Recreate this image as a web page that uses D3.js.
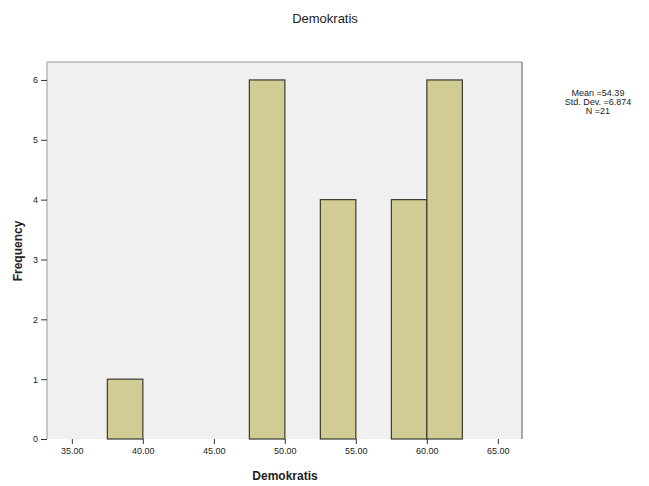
<!DOCTYPE html>
<html><head><meta charset="utf-8">
<script src="https://cdn.jsdelivr.net/npm/d3@7/dist/d3.min.js"></script>
<style>body{margin:0;background:#fff;}svg{display:block;font-family:"Liberation Sans",Arial,sans-serif;}</style>
</head><body>
<script>
const binStarts = [37.5, 47.5, 52.5, 57.5, 60.0];
const binWidth = 2.5;
const frequencies = [1, 6, 4, 4, 6];
const xTicks = [35, 40, 45, 50, 55, 60, 65];
const yTicks = [0, 1, 2, 3, 4, 5, 6];
const statsLines = ["Mean =54.39", "Std. Dev. =6.874", "N =21"];
const titleText = "Demokratis";
const xLabel = "Demokratis";
const yLabel = "Frequency";

const W = 649, H = 486;
const m = {left: 47, top: 62, right: 522, bottom: 439};
const svg = d3.select("body").append("svg").attr("width", W).attr("height", H);

const x = d3.scaleLinear().domain([33.25, 66.7]).range([m.left, m.right]);
const y = d3.scaleLinear().domain([0, 6.3]).range([m.bottom, m.top]);

svg.append("rect").attr("x", m.left).attr("y", m.top).attr("width", m.right - m.left).attr("height", m.bottom - m.top)
  .attr("fill", "#f0f0f0");

svg.selectAll("rect.bar").data(binStarts).enter().append("rect").attr("class", "bar")
  .attr("x", d => x(d)).attr("width", d => x(d + binWidth) - x(d))
  .attr("y", (d, i) => y(frequencies[i])).attr("height", (d, i) => y(0) - y(frequencies[i]))
  .attr("fill", "#d0cc93").attr("stroke", "#3a3a30").attr("stroke-width", 1.2);

// border
svg.append("line").attr("x1", m.left).attr("x2", m.right).attr("y1", m.top).attr("y2", m.top).attr("stroke", "#999");
svg.append("line").attr("x1", m.right).attr("x2", m.right).attr("y1", m.top).attr("y2", m.bottom).attr("stroke", "#555");
svg.append("line").attr("x1", m.left).attr("x2", m.left).attr("y1", m.top).attr("y2", m.bottom).attr("stroke", "#999");

const xAxis = svg.append("g").attr("transform", `translate(0,${m.bottom})`)
  .call(d3.axisBottom(x).tickValues(xTicks).tickFormat(d3.format(".2f")).tickSize(5).tickPadding(4));
xAxis.select(".domain").remove();
xAxis.selectAll("line").attr("stroke", "#333");
xAxis.selectAll("text").attr("font-size", 9).attr("fill", "#222");

const yAxis = svg.append("g").attr("transform", `translate(${m.left},0)`)
  .call(d3.axisLeft(y).tickValues(yTicks).tickFormat(d3.format("d")).tickSize(6).tickPadding(3));
yAxis.select(".domain").remove();
yAxis.selectAll("line").attr("stroke", "#333");
yAxis.selectAll("text").attr("font-size", 9).attr("fill", "#222");

svg.append("text").attr("x", 325).attr("y", 23).attr("text-anchor", "middle")
  .attr("font-size", 13).attr("fill", "#222").text(titleText);
svg.append("text").attr("x", 285).attr("y", 480).attr("text-anchor", "middle")
  .attr("font-size", 12).attr("font-weight", "bold").attr("fill", "#222").text(xLabel);
svg.append("text").attr("transform", "translate(22,251) rotate(-90)").attr("text-anchor", "middle")
  .attr("font-size", 12).attr("font-weight", "bold").attr("fill", "#222").text(yLabel);

svg.selectAll("text.stat").data(statsLines).enter().append("text").attr("class", "stat")
  .attr("x", 598).attr("y", (d, i) => 96 + i * 9).attr("text-anchor", "middle")
  .attr("font-size", 9).attr("fill", "#222").text(d => d);
</script>
</body></html>
